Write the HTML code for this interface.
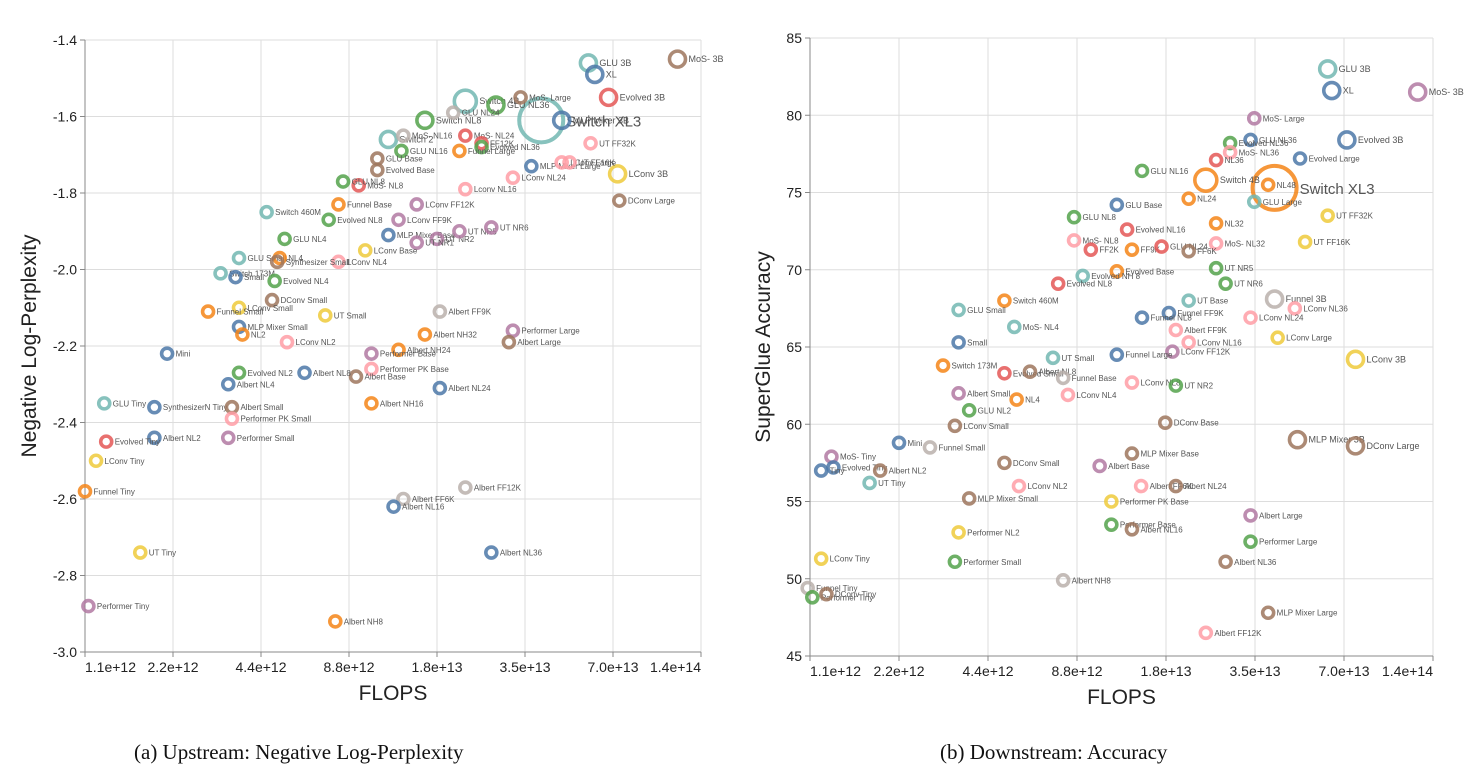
<!DOCTYPE html>
<html><head><meta charset="utf-8"><style>
body{margin:0;background:#fff;width:1464px;height:782px;overflow:hidden;font-family:"Liberation Sans",sans-serif}
svg{position:absolute;left:0;top:0}
.cap{position:absolute;font-family:"Liberation Serif",serif;font-size:21px;color:#111;white-space:nowrap}
</style></head><body>
<svg id="chart" width="1464" height="782"></svg>
<div class="cap" style="left:134px;top:740px">(a) Upstream: Negative Log-Perplexity</div>
<div class="cap" style="left:940px;top:740px">(b) Downstream: Accuracy</div>
<script>
const upLabels=["MoS- 3B","GLU 3B","XL","Evolved 3B","Switch XL3","MLP Mixer 3B","Switch 4B","GLU NL36","MoS- Large","UT FF32K","LConv 3B","DConv Large","MLP Mixer Large","LConv Large","UT FF16K","LConv NL24","Switch NL8","GLU NL24","MoS- NL24","FF12K","Evolved NL36","Funnel Large","Switch 2","MoS- NL16","GLU NL16","GLU Base","Lconv NL16","LConv FF12K","LConv FF9K","Evolved Base","MoS- NL8","GLU NL8","Funnel Base","Evolved NL8","Switch 460M","MLP Mixer Base","UT NR2","UT NR5","UT NR6","UT NR1","LConv Base","LConv NL4","GLU NL4","GLU Small","NL4","Synthesizer Small","Switch 173M","Small","Evolved NL4","DConv Small","LConv Small","Funnel Small","MLP Mixer Small","NL2","UT Small","LConv NL2","Mini","Albert FF9K","Albert NH32","Albert NH24","Performer Large","Albert Large","Performer Base","Performer PK Base","Albert Base","Albert NL8","Evolved NL2","Albert NL4","Albert NL24","Albert NH16","GLU Tiny","SynthesizerN Tiny","Albert Small","Performer PK Small","Albert NL2","Performer Small","Evolved Tiny","LConv Tiny","Funnel Tiny","Albert FF12K","Albert FF6K","Albert NL16","UT Tiny","Albert NL36","Performer Tiny","Albert NH8"];
const upFlops=[1.17e14,5.8e13,6.1e13,6.8e13,4.0e13,4.7e13,2.2e13,2.8e13,3.4e13,5.9e13,7.3e13,7.4e13,3.7e13,4.7e13,5.0e13,3.2e13,1.6e13,2.0e13,2.2e13,2.5e13,2.5e13,2.1e13,1.2e13,1.35e13,1.33e13,1.1e13,2.2e13,1.5e13,1.3e13,1.1e13,9.5e12,8.4e12,8.1e12,7.5e12,4.6e12,1.2e13,1.76e13,2.1e13,2.7e13,1.5e13,1.0e13,8.1e12,5.3e12,3.7e12,5.1e12,5.0e12,3.2e12,3.6e12,4.9e12,4.8e12,3.7e12,2.9e12,3.7e12,3.8e12,7.3e12,5.4e12,2.1e12,1.8e13,1.6e13,1.3e13,3.2e13,3.1e13,1.05e13,1.05e13,9.3e12,6.2e12,3.7e12,3.4e12,1.8e13,1.05e13,1.28e12,1.9e12,3.5e12,3.5e12,1.9e12,3.4e12,1.3e12,1.2e12,1.1e12,2.2e13,1.35e13,1.25e13,1.7e12,2.7e13,1.13e12,7.9e12];
const upValues=[-1.45,-1.46,-1.49,-1.55,-1.61,-1.61,-1.56,-1.57,-1.55,-1.67,-1.75,-1.82,-1.73,-1.72,-1.72,-1.76,-1.61,-1.59,-1.65,-1.67,-1.68,-1.69,-1.66,-1.65,-1.69,-1.71,-1.79,-1.83,-1.87,-1.74,-1.78,-1.77,-1.83,-1.87,-1.85,-1.91,-1.92,-1.90,-1.89,-1.93,-1.95,-1.98,-1.92,-1.97,-1.97,-1.98,-2.01,-2.02,-2.03,-2.08,-2.10,-2.11,-2.15,-2.17,-2.12,-2.19,-2.22,-2.11,-2.17,-2.21,-2.16,-2.19,-2.22,-2.26,-2.28,-2.27,-2.27,-2.30,-2.31,-2.35,-2.35,-2.36,-2.36,-2.39,-2.44,-2.44,-2.45,-2.50,-2.58,-2.57,-2.60,-2.62,-2.74,-2.74,-2.88,-2.92];
const upColors=["n","t","b","r","t","b","t","g","n","k","y","n","b","k","k","k","g","a","r","r","g","o","t","a","g","n","k","p","p","n","r","g","o","g","t","b","p","p","p","p","y","k","g","t","o","n","t","b","g","n","y","o","b","o","y","k","b","a","o","o","p","n","p","k","n","b","g","b","b","o","t","b","n","k","b","p","r","y","o","a","a","b","y","b","p","o"];
const upSizes=[3,3,3,3,8,3,4,3,2,2,3,2,2,2,2,2,3,2,2,2,2,2,3,2,2,2,2,2,2,2,2,2,2,2,2,2,2,2,2,2,2,2,2,2,2,2,2,2,2,2,2,2,2,2,2,2,2,2,2,2,2,2,2,2,2,2,2,2,2,2,2,2,2,2,2,2,2,2,2,2,2,2,2,2,2,2];

const downLabels=["GLU 3B","XL","MoS- 3B","Evolved 3B","MoS- Large","Evolved Large","Switch XL3","Switch 4B","NL48","UT FF32K","UT FF16K","GLU Large","GLU NL36","Evolved NL36","MoS- NL36","NL36","GLU NL16","NL24","NL32","MoS- NL32","GLU NL8","GLU Base","Evolved NL16","MoS- NL8","FF2K","Evolved Base","Evolved NH 8","Evolved NL8","FF9K","GLU NL24","FF6K","UT NR5","UT NR6","UT Base","Funnel FF9K","Funnel 3B","LConv NL36","LConv NL24","LConv Large","LConv 3B","Funnel NL8","Albert FF9K","LConv NL16","LConv FF12K","Funnel Large","UT Small","Switch 173M","Evolved Small","Albert NL8","Funnel Base","LConv NL8","UT NR2","LConv NL4","NL4","Albert Small","GLU NL2","LConv Small","DConv Base","MLP Mixer 3B","DConv Large","Mini","Funnel Small","MoS- Tiny","Evolved Tiny","Tiny","Albert NL2","UT Tiny","MLP Mixer Base","Albert Base","DConv Small","Albert FF6K","Albert NL24","LConv NL2","MLP Mixer Small","Performer PK Base","Performer Base","Albert NL16","Albert Large","Performer Large","Albert NL36","Performer NL2","Performer Small","LConv Tiny","Funnel Tiny","Performer Tiny","DConv Tiny","Albert NH8","MLP Mixer Large","Albert FF12K","Switch 460M","GLU Small","MoS- NL4","Small"];
const downFlops=[6.2e13,6.4e13,1.25e14,7.2e13,3.5e13,5.0e13,4.1e13,2.4e13,3.9e13,6.2e13,5.2e13,3.5e13,3.4e13,2.9e13,2.9e13,2.6e13,1.46e13,2.1e13,2.6e13,2.6e13,8.6e12,1.2e13,1.3e13,8.6e12,9.8e12,1.2e13,9.2e12,7.6e12,1.35e13,1.7e13,2.1e13,2.6e13,2.8e13,2.1e13,1.8e13,4.1e13,4.8e13,3.4e13,4.2e13,7.7e13,1.46e13,1.9e13,2.1e13,1.85e13,1.2e13,7.3e12,3.1e12,5.0e12,6.1e12,7.9e12,1.35e13,1.9e13,8.2e12,5.5e12,3.5e12,3.8e12,3.4e12,1.75e13,4.9e13,7.7e13,2.2e12,2.8e12,1.3e12,1.32e12,1.2e12,1.9e12,1.75e12,1.35e13,1.05e13,5.0e12,1.45e13,1.9e13,5.6e12,3.8e12,1.15e13,1.15e13,1.35e13,3.4e13,3.4e13,2.8e13,3.5e12,3.4e12,1.2e12,1.08e12,1.12e12,1.25e12,7.9e12,3.9e13,2.4e13,5.0e12,3.5e12,5.4e12,3.5e12];
const downValues=[83.0,81.6,81.5,78.4,79.8,77.2,75.3,75.8,75.5,73.5,71.8,74.4,78.4,78.2,77.6,77.1,76.4,74.6,73.0,71.7,73.4,74.2,72.6,71.9,71.3,69.9,69.6,69.1,71.3,71.5,71.2,70.1,69.1,68.0,67.2,68.1,67.5,66.9,65.6,64.2,66.9,66.1,65.3,64.7,64.5,64.3,63.8,63.3,63.4,63.0,62.7,62.5,61.9,61.6,62.0,60.9,59.9,60.1,59.0,58.6,58.8,58.5,57.9,57.2,57.0,57.0,56.2,58.1,57.3,57.5,56.0,56.0,56.0,55.2,55.0,53.5,53.2,54.1,52.4,51.1,53.0,51.1,51.3,49.4,48.8,49.0,49.9,47.8,46.5,68.0,67.4,66.3,65.3];
const downColors=["t","b","p","b","p","b","o","o","o","y","y","t","b","g","k","r","g","o","o","k","g","b","r","k","r","o","t","r","o","r","n","g","g","t","b","a","k","k","y","y","b","k","k","p","b","t","o","r","n","a","k","g","k","o","p","g","n","n","n","n","b","a","p","b","b","n","t","n","p","n","k","n","k","n","y","g","n","p","g","n","y","g","y","a","g","n","a","n","k","o","t","t","b"];
const downSizes=[3,3,3,3,2,2,8,4,2,2,2,2,2,2,2,2,2,2,2,2,2,2,2,2,2,2,2,2,2,2,2,2,2,2,2,3,2,2,2,3,2,2,2,2,2,2,2,2,2,2,2,2,2,2,2,2,2,2,3,3,2,2,2,2,2,2,2,2,2,2,2,2,2,2,2,2,2,2,2,2,2,2,2,2,2,2,2,2,2,2,2,2,2];

const xTicks=[1.1e12,2.2e12,4.4e12,8.8e12,1.76e13,3.52e13,7.04e13,1.408e14];
const xTickLabels=["1.1e+12","2.2e+12","4.4e+12","8.8e+12","1.8e+13","3.5e+13","7.0e+13","1.4e+14"];
const upYTicks=[-1.4,-1.6,-1.8,-2.0,-2.2,-2.4,-2.6,-2.8,-3.0];
const upYTickLabels=["-1.4","-1.6","-1.8","-2.0","-2.2","-2.4","-2.6","-2.8","-3.0"];
const downYTicks=[85,80,75,70,65,60,55,50,45];
const downYTickLabels=["85","80","75","70","65","60","55","50","45"];

const COL={b:"#4c78a8",o:"#f58518",r:"#e45756",t:"#72b7b2",g:"#54a24b",y:"#eeca3b",p:"#b279a2",k:"#ff9da6",n:"#9d755d",a:"#bab0ac"};
const svg=document.getElementById('chart');
const NS="http://www.w3.org/2000/svg";
function mk(tag,attrs,parent){const e=document.createElementNS(NS,tag);for(const k in attrs)e.setAttribute(k,attrs[k]);(parent||svg).appendChild(e);return e;}

function plot(o){
  const g=mk('g',{});
  
  
  const lx0=Math.log2(xTicks[0]),lx1=Math.log2(xTicks[xTicks.length-1]);
  const xs=v=>o.x0+(Math.log2(v)-lx0)/(lx1-lx0)*(o.x1-o.x0);
  const ys=v=>o.y0+(v-o.yTop)/(o.yBot-o.yTop)*(o.y1-o.y0);
  xTicks.forEach((t,i)=>{
    const x=xs(t);
    const gl=mk('line',{x1:x,x2:x,y1:o.y0,y2:o.y1,stroke:"#ddd","stroke-width":1},g);
    
    
    mk('line',{x1:x,x2:x,y1:o.y1,y2:o.y1+5,stroke:"#888"},g);
    const anchor=i==0?"start":(i==xTicks.length-1?"end":"middle");
    const tl=mk('text',{x:x,y:o.y1+20,"font-size":14,fill:"#222","text-anchor":anchor},g);
    tl.textContent=xTickLabels[i];
    
    
  });
  o.yt.forEach((t,i)=>{
    const y=ys(t);
    const gl=mk('line',{x1:o.x0,x2:o.x1,y1:y,y2:y,stroke:"#ddd","stroke-width":1},g);
    
    
    mk('line',{x1:o.x0-5,x2:o.x0,y1:y,y2:y,stroke:"#888"},g);
    const tl=mk('text',{x:o.x0-8,y:y+5,"font-size":14,fill:"#222","text-anchor":"end"},g);
    tl.textContent=o.ytl[i];
    
    
  });
  mk('line',{x1:o.x0,x2:o.x0,y1:o.y0,y2:o.y1,stroke:"#888"},g);
  mk('line',{x1:o.x0,x2:o.x1,y1:o.y1,y2:o.y1,stroke:"#888"},g);
  const xt=mk('text',{x:(o.x0+o.x1)/2,y:o.y1+48,"font-size":21,fill:"#222","text-anchor":"middle"},g);
  xt.textContent="FLOPS";
  
  
  const cy=(o.y0+o.y1)/2;
  const yt=mk('text',{x:o.ytx,y:cy,"font-size":21,fill:"#222","text-anchor":"middle",transform:`rotate(-90 ${o.ytx} ${cy})`},g);
  yt.textContent=o.ytitle;
  
  
  o.labels.forEach((lab,i)=>{
    const x=xs(o.fl[i]),y=ys(o.val[i]);
    const s=o.sz[i];
    const r=s>=8?22:(s>=4?11:(s==3?8:5.5));
    const c=mk('circle',{cx:x,cy:y,r:r,fill:"none",stroke:COL[o.col[i]]||"#999","stroke-width":s>=8?4:3.6,"stroke-opacity":0.85},g);
    
    
    const t=mk('text',{x:x+r+3,y:y+(s>=8?6:3),"font-size":s>=8?15:(s>=3?9:8),fill:"#555"},g);
    t.textContent=lab;
    
    
  });
}
plot({name:'upstream-chart',x0:85,x1:701,y0:40,y1:652,yTop:-1.4,yBot:-3.0,yt:upYTicks,ytl:upYTickLabels,ytitle:"Negative Log-Perplexity",ytx:36,labels:upLabels,fl:upFlops,val:upValues,col:upColors,sz:upSizes});
plot({name:'downstream-chart',x0:810,x1:1433,y0:38,y1:656,yTop:85,yBot:45,yt:downYTicks,ytl:downYTickLabels,ytitle:"SuperGlue Accuracy",ytx:770,labels:downLabels,fl:downFlops,val:downValues,col:downColors,sz:downSizes});
</script>
</body></html>
